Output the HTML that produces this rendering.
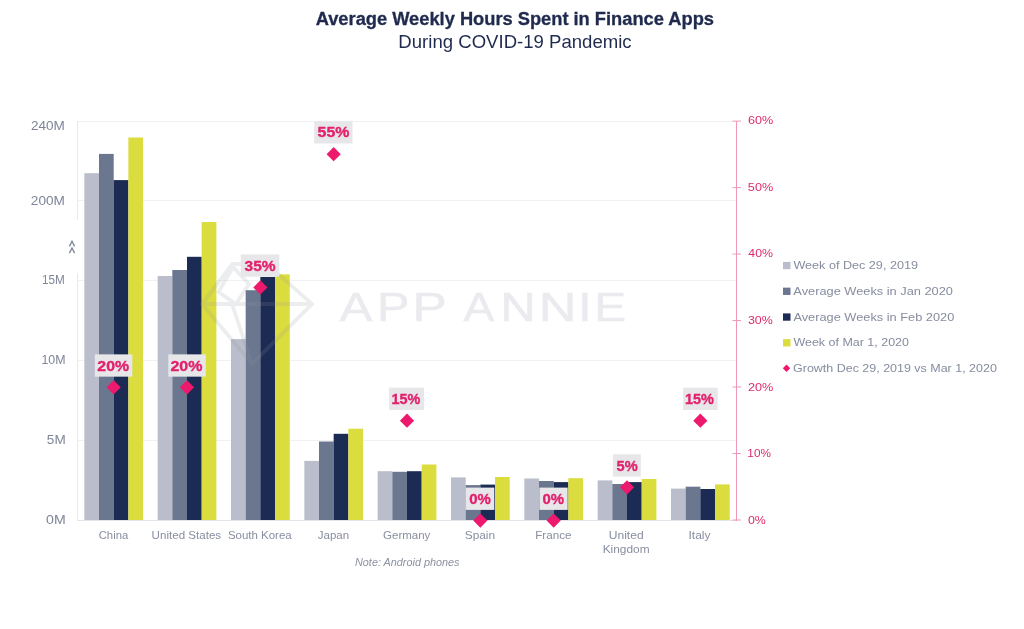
<!DOCTYPE html><html><head><meta charset="utf-8"><title>Average Weekly Hours Spent in Finance Apps</title><style>html,body{margin:0;padding:0;background:#fff;overflow:hidden}svg{display:block;will-change:transform}text{font-family:"Liberation Sans",sans-serif}</style></head><body>
<svg width="1024" height="629" viewBox="0 0 1024 629">
<rect width="1024" height="629" fill="#fff"/>
<text x="315.69" y="25.10" font-size="17.43" font-weight="bold" stroke="#1f2a4e" stroke-width="0.3" textLength="398.27" lengthAdjust="spacingAndGlyphs" fill="#1f2a4e">Average Weekly Hours Spent in Finance Apps</text>
<text x="398.36" y="48.30" font-size="18.43" textLength="233.28" lengthAdjust="spacingAndGlyphs" fill="#1f2a4e">During COVID-19 Pandemic</text>
<rect x="77.0" y="121" width="660.0" height="1" fill="#f1f1f4"/>
<rect x="77.0" y="200" width="660.0" height="1" fill="#f1f1f4"/>
<rect x="77.0" y="280" width="660.0" height="1" fill="#f1f1f4"/>
<rect x="77.0" y="360" width="660.0" height="1" fill="#f1f1f4"/>
<rect x="77.0" y="440" width="660.0" height="1" fill="#f1f1f4"/>
<rect x="77.0" y="520" width="660.0" height="1" fill="#e3e4e9"/>
<rect x="77" y="121" width="1" height="99" fill="#e8e9ee"/>
<rect x="77" y="273.5" width="1" height="247" fill="#e8e9ee"/>
<path d="M69.4 246.4 L72 241.3 L74.6 246.4 M69.4 253.1 L72 248 L74.6 253.1" fill="none" stroke="#81879a" stroke-width="1.35"/>
<text x="30.92" y="130.20" font-size="12.60" textLength="33.93" lengthAdjust="spacingAndGlyphs" fill="#7e8598">240M</text>
<text x="30.86" y="204.80" font-size="12.60" textLength="34.11" lengthAdjust="spacingAndGlyphs" fill="#7e8598">200M</text>
<text x="41.99" y="284.00" font-size="12.60" textLength="22.77" lengthAdjust="spacingAndGlyphs" fill="#7e8598">15M</text>
<text x="41.46" y="364.00" font-size="12.60" textLength="24.09" lengthAdjust="spacingAndGlyphs" fill="#7e8598">10M</text>
<text x="46.89" y="443.90" font-size="12.60" textLength="18.82" lengthAdjust="spacingAndGlyphs" fill="#7e8598">5M</text>
<text x="46.06" y="524.00" font-size="12.60" textLength="19.64" lengthAdjust="spacingAndGlyphs" fill="#7e8598">0M</text>
<g fill="#ebebef" stroke="#ebebef" stroke-width="0.5">
<text x="339.43" y="321.00" font-size="40.57" textLength="32.94" lengthAdjust="spacingAndGlyphs">A</text>
<text x="377.07" y="321.00" font-size="40.57" textLength="32.34" lengthAdjust="spacingAndGlyphs">P</text>
<text x="412.47" y="321.00" font-size="40.57" textLength="34.14" lengthAdjust="spacingAndGlyphs">P</text>
<text x="463.53" y="321.00" font-size="40.57" textLength="30.80" lengthAdjust="spacingAndGlyphs">A</text>
<text x="500.25" y="321.00" font-size="40.57" textLength="35.54" lengthAdjust="spacingAndGlyphs">N</text>
<text x="538.82" y="321.00" font-size="40.57" textLength="37.75" lengthAdjust="spacingAndGlyphs">N</text>
<text x="578.19" y="321.00" font-size="40.57" textLength="13.26" lengthAdjust="spacingAndGlyphs">I</text>
<text x="594.36" y="321.00" font-size="40.57" textLength="31.89" lengthAdjust="spacingAndGlyphs">E</text>
</g>
<rect x="84.33" y="173.20" width="14.71" height="346.80" fill="#babdcb"/>
<rect x="99.00" y="153.90" width="14.71" height="366.10" fill="#6b768f"/>
<rect x="113.67" y="180.10" width="14.71" height="339.90" fill="#1c2b53"/>
<rect x="128.34" y="137.50" width="14.71" height="382.50" fill="#dbdc3e"/>
<rect x="157.66" y="276.00" width="14.71" height="244.00" fill="#babdcb"/>
<rect x="172.33" y="270.00" width="14.71" height="250.00" fill="#6b768f"/>
<rect x="187.00" y="256.80" width="14.71" height="263.20" fill="#1c2b53"/>
<rect x="201.67" y="222.00" width="14.71" height="298.00" fill="#dbdc3e"/>
<rect x="231.00" y="339.10" width="14.71" height="180.90" fill="#babdcb"/>
<rect x="245.67" y="290.20" width="14.71" height="229.80" fill="#6b768f"/>
<rect x="260.34" y="277.00" width="14.71" height="243.00" fill="#1c2b53"/>
<rect x="275.01" y="274.40" width="14.71" height="245.60" fill="#dbdc3e"/>
<rect x="304.33" y="460.90" width="14.71" height="59.10" fill="#babdcb"/>
<rect x="319.00" y="441.50" width="14.71" height="78.50" fill="#6b768f"/>
<rect x="333.67" y="433.80" width="14.71" height="86.20" fill="#1c2b53"/>
<rect x="348.34" y="428.70" width="14.71" height="91.30" fill="#dbdc3e"/>
<rect x="377.66" y="471.20" width="14.71" height="48.80" fill="#babdcb"/>
<rect x="392.33" y="471.80" width="14.71" height="48.20" fill="#6b768f"/>
<rect x="407.00" y="471.20" width="14.71" height="48.80" fill="#1c2b53"/>
<rect x="421.67" y="464.50" width="14.71" height="55.50" fill="#dbdc3e"/>
<rect x="451.00" y="477.40" width="14.71" height="42.60" fill="#babdcb"/>
<rect x="465.67" y="485.10" width="14.71" height="34.90" fill="#6b768f"/>
<rect x="480.34" y="484.60" width="14.71" height="35.40" fill="#1c2b53"/>
<rect x="495.01" y="477.00" width="14.71" height="43.00" fill="#dbdc3e"/>
<rect x="524.33" y="478.50" width="14.71" height="41.50" fill="#babdcb"/>
<rect x="539.00" y="481.00" width="14.71" height="39.00" fill="#6b768f"/>
<rect x="553.67" y="482.10" width="14.71" height="37.90" fill="#1c2b53"/>
<rect x="568.34" y="478.20" width="14.71" height="41.80" fill="#dbdc3e"/>
<rect x="597.66" y="480.40" width="14.71" height="39.60" fill="#babdcb"/>
<rect x="612.33" y="484.00" width="14.71" height="36.00" fill="#6b768f"/>
<rect x="627.00" y="482.10" width="14.71" height="37.90" fill="#1c2b53"/>
<rect x="641.67" y="479.00" width="14.71" height="41.00" fill="#dbdc3e"/>
<rect x="671.00" y="488.60" width="14.71" height="31.40" fill="#babdcb"/>
<rect x="685.67" y="486.70" width="14.71" height="33.30" fill="#6b768f"/>
<rect x="700.34" y="489.00" width="14.71" height="31.00" fill="#1c2b53"/>
<rect x="715.01" y="484.40" width="14.71" height="35.60" fill="#dbdc3e"/>
<g fill="none" stroke="#8d92a3" stroke-opacity="0.17" stroke-width="3.8" stroke-linejoin="miter" stroke-linecap="butt">
<path d="M202 304 L232.5 264 L267 264 L312 304 L252 364 Z M202 304 L312 304 M232 304 L252 364 M218.5 292 L233 267 L249 284 L236 304 Z"/>
</g>
<rect x="736" y="121" width="1" height="400" fill="#ef98ba"/>
<rect x="732.5" y="519.50" width="8.5" height="1" fill="#ef98ba"/>
<rect x="732.5" y="453.02" width="8.5" height="1" fill="#ef98ba"/>
<rect x="732.5" y="386.54" width="8.5" height="1" fill="#ef98ba"/>
<rect x="732.5" y="320.06" width="8.5" height="1" fill="#ef98ba"/>
<rect x="732.5" y="253.58" width="8.5" height="1" fill="#ef98ba"/>
<rect x="732.5" y="187.10" width="8.5" height="1" fill="#ef98ba"/>
<rect x="732.5" y="120.62" width="8.5" height="1" fill="#ef98ba"/>
<text x="747.90" y="124.20" font-size="11.80" textLength="25.27" lengthAdjust="spacingAndGlyphs" fill="#dd2b6d">60%</text>
<text x="747.87" y="190.90" font-size="11.80" textLength="25.37" lengthAdjust="spacingAndGlyphs" fill="#dd2b6d">50%</text>
<text x="748.39" y="257.40" font-size="11.80" textLength="24.67" lengthAdjust="spacingAndGlyphs" fill="#dd2b6d">40%</text>
<text x="747.94" y="324.10" font-size="11.80" textLength="24.83" lengthAdjust="spacingAndGlyphs" fill="#dd2b6d">30%</text>
<text x="747.91" y="390.80" font-size="11.80" textLength="25.39" lengthAdjust="spacingAndGlyphs" fill="#dd2b6d">20%</text>
<text x="747.35" y="457.20" font-size="11.80" textLength="23.55" lengthAdjust="spacingAndGlyphs" fill="#dd2b6d">10%</text>
<text x="747.96" y="523.80" font-size="11.80" textLength="17.90" lengthAdjust="spacingAndGlyphs" fill="#dd2b6d">0%</text>
<rect x="94.80" y="354.36" width="37.50" height="22.3" fill="#e7e7ea"/>
<text x="97.34" y="370.50" font-size="15.20" font-weight="bold" stroke="#e2216c" stroke-width="0.35" textLength="31.70" lengthAdjust="spacingAndGlyphs" fill="#e2216c">20%</text>
<path d="M113.67 380.26 L120.77 387.36 L113.67 394.46 L106.57 387.36 Z" fill="#ed196d"/>
<rect x="168.30" y="354.36" width="37.50" height="22.3" fill="#e7e7ea"/>
<text x="170.41" y="370.50" font-size="15.20" font-weight="bold" stroke="#e2216c" stroke-width="0.35" textLength="32.02" lengthAdjust="spacingAndGlyphs" fill="#e2216c">20%</text>
<path d="M187.00 380.26 L194.10 387.36 L187.00 394.46 L179.90 387.36 Z" fill="#ed196d"/>
<rect x="240.80" y="254.43" width="38.50" height="22.3" fill="#e7e7ea"/>
<text x="244.55" y="270.70" font-size="15.20" font-weight="bold" stroke="#e2216c" stroke-width="0.35" textLength="31.07" lengthAdjust="spacingAndGlyphs" fill="#e2216c">35%</text>
<path d="M260.33 280.33 L267.43 287.43 L260.33 294.53 L253.23 287.43 Z" fill="#ed196d"/>
<rect x="314.20" y="121.19" width="38.30" height="22.3" fill="#e7e7ea"/>
<text x="317.63" y="137.30" font-size="15.20" font-weight="bold" stroke="#e2216c" stroke-width="0.35" textLength="31.73" lengthAdjust="spacingAndGlyphs" fill="#e2216c">55%</text>
<path d="M333.67 147.09 L340.77 154.19 L333.67 161.29 L326.57 154.19 Z" fill="#ed196d"/>
<rect x="389.10" y="387.67" width="35.00" height="22.3" fill="#e7e7ea"/>
<text x="391.59" y="403.90" font-size="15.20" font-weight="bold" stroke="#e2216c" stroke-width="0.35" textLength="28.84" lengthAdjust="spacingAndGlyphs" fill="#e2216c">15%</text>
<path d="M407.00 413.57 L414.10 420.67 L407.00 427.77 L399.90 420.67 Z" fill="#ed196d"/>
<rect x="465.70" y="487.60" width="28.60" height="22.3" fill="#e7e7ea"/>
<text x="469.15" y="503.80" font-size="15.20" font-weight="bold" stroke="#e2216c" stroke-width="0.35" textLength="21.64" lengthAdjust="spacingAndGlyphs" fill="#e2216c">0%</text>
<path d="M480.33 513.50 L487.43 520.60 L480.33 527.70 L473.23 520.60 Z" fill="#ed196d"/>
<rect x="539.40" y="487.60" width="28.30" height="22.3" fill="#e7e7ea"/>
<text x="542.46" y="503.80" font-size="15.20" font-weight="bold" stroke="#e2216c" stroke-width="0.35" textLength="21.57" lengthAdjust="spacingAndGlyphs" fill="#e2216c">0%</text>
<path d="M553.67 513.50 L560.77 520.60 L553.67 527.70 L546.57 520.60 Z" fill="#ed196d"/>
<rect x="612.90" y="454.29" width="27.90" height="22.3" fill="#e7e7ea"/>
<text x="616.54" y="470.70" font-size="15.20" font-weight="bold" stroke="#e2216c" stroke-width="0.35" textLength="21.10" lengthAdjust="spacingAndGlyphs" fill="#e2216c">5%</text>
<path d="M627.00 480.19 L634.10 487.29 L627.00 494.39 L619.90 487.29 Z" fill="#ed196d"/>
<rect x="683.10" y="387.67" width="34.60" height="22.3" fill="#e7e7ea"/>
<text x="684.93" y="403.90" font-size="15.20" font-weight="bold" stroke="#e2216c" stroke-width="0.35" textLength="28.94" lengthAdjust="spacingAndGlyphs" fill="#e2216c">15%</text>
<path d="M700.33 413.57 L707.43 420.67 L700.33 427.77 L693.23 420.67 Z" fill="#ed196d"/>
<text x="98.69" y="539.10" font-size="11.50" textLength="29.54" lengthAdjust="spacingAndGlyphs" fill="#898ea0">China</text>
<text x="151.63" y="539.10" font-size="11.50" textLength="69.52" lengthAdjust="spacingAndGlyphs" fill="#898ea0">United States</text>
<text x="227.89" y="539.10" font-size="11.50" textLength="63.76" lengthAdjust="spacingAndGlyphs" fill="#898ea0">South Korea</text>
<text x="317.80" y="539.10" font-size="11.50" textLength="31.38" lengthAdjust="spacingAndGlyphs" fill="#898ea0">Japan</text>
<text x="383.05" y="539.10" font-size="11.50" textLength="47.29" lengthAdjust="spacingAndGlyphs" fill="#898ea0">Germany</text>
<text x="464.81" y="539.10" font-size="11.50" textLength="30.30" lengthAdjust="spacingAndGlyphs" fill="#898ea0">Spain</text>
<text x="535.24" y="539.10" font-size="11.50" textLength="36.23" lengthAdjust="spacingAndGlyphs" fill="#898ea0">France</text>
<text x="608.72" y="539.10" font-size="11.50" textLength="34.91" lengthAdjust="spacingAndGlyphs" fill="#898ea0">United</text>
<text x="602.69" y="553.10" font-size="11.50" textLength="46.90" lengthAdjust="spacingAndGlyphs" fill="#898ea0">Kingdom</text>
<text x="688.49" y="539.10" font-size="11.50" textLength="22.02" lengthAdjust="spacingAndGlyphs" fill="#898ea0">Italy</text>
<text x="355.00" y="565.50" font-size="10.71" font-style="italic" textLength="104.52" lengthAdjust="spacingAndGlyphs" fill="#8c91a3">Note: Android phones</text>
<rect x="783" y="261.90" width="7.5" height="7.3" fill="#babdcb"/>
<text x="793.40" y="269.00" font-size="11.80" textLength="124.56" lengthAdjust="spacingAndGlyphs" fill="#868c9f">Week of Dec 29, 2019</text>
<rect x="783" y="287.65" width="7.5" height="7.3" fill="#6b768f"/>
<text x="793.35" y="294.75" font-size="11.80" textLength="159.61" lengthAdjust="spacingAndGlyphs" fill="#868c9f">Average Weeks in Jan 2020</text>
<rect x="783" y="313.40" width="7.5" height="7.3" fill="#1c2b53"/>
<text x="793.41" y="320.50" font-size="11.80" textLength="160.93" lengthAdjust="spacingAndGlyphs" fill="#868c9f">Average Weeks in Feb 2020</text>
<rect x="783" y="339.15" width="7.5" height="7.3" fill="#dbdc3e"/>
<text x="793.40" y="346.25" font-size="11.80" textLength="115.58" lengthAdjust="spacingAndGlyphs" fill="#868c9f">Week of Mar 1, 2020</text>
<path d="M786.5 364.5 L790.2 368.2 L786.5 371.9 L782.8 368.2 Z" fill="#ed196d"/>
<text x="793.04" y="372.00" font-size="11.80" textLength="203.84" lengthAdjust="spacingAndGlyphs" fill="#868c9f">Growth Dec 29, 2019 vs Mar 1, 2020</text>
</svg></body></html>
